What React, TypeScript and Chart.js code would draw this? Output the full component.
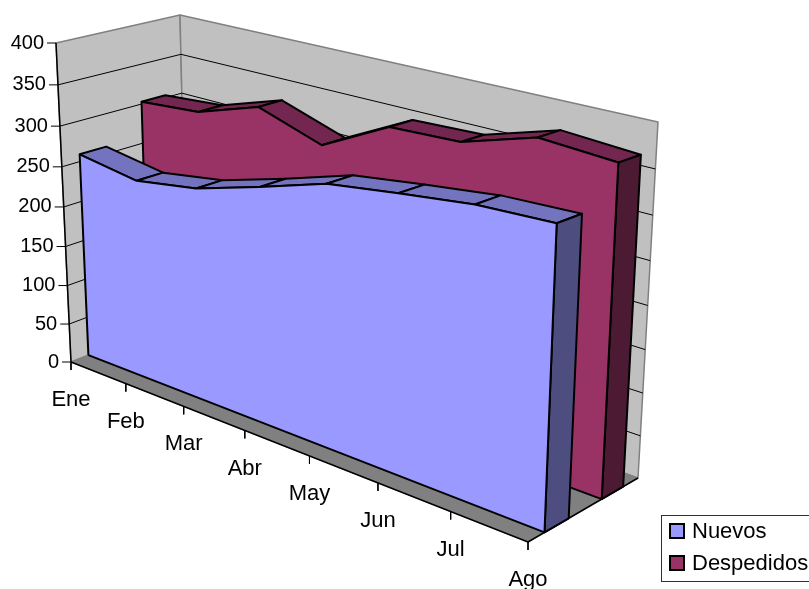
import React, { useEffect, useRef } from "react";
import { Chart, registerables } from "chart.js";

Chart.register(...registerables);

const categories = ["Ene", "Feb", "Mar", "Abr", "May", "Jun", "Jul", "Ago"];
const nuevos = [259, 247, 259, 282, 307, 318, 328, 331];
const despedidos = [303, 309, 334, 308, 349, 352, 377, 371];
const yTicks = [0, 50, 100, 150, 200, 250, 300, 350, 400];
const legendNames = ["Nuevos", "Despedidos"];

const W = 809;
const H = 589;
const FONT_Y = "20px 'Liberation Sans', Arial, sans-serif";
const FONT_X = "22px 'Liberation Sans', Arial, sans-serif";
const Y_MAX = 400;

type P = [number, number];
// Projected corners of the plot box: bottom-left, bottom-right, top-right, top-left
const FRONT: P[] = [[71, 362], [528, 542], [542, 160], [56, 43]];
const BACK: P[] = [[187, 316], [638, 478], [658, 122], [180, 15]];

function project(uIdx: number, value: number, t: number): { x: number; y: number } {
  const q = FRONT.map((f, i) => [f[0] + (BACK[i][0] - f[0]) * t, f[1] + (BACK[i][1] - f[1]) * t]);
  const [x0, y0] = q[0], [x1, y1] = q[1], [x2, y2] = q[2], [x3, y3] = q[3];
  const dx1 = x1 - x2, dx2 = x3 - x2, sx = x0 - x1 + x2 - x3;
  const dy1 = y1 - y2, dy2 = y3 - y2, sy = y0 - y1 + y2 - y3;
  const den = dx1 * dy2 - dx2 * dy1;
  const g = (sx * dy2 - dx2 * sy) / den;
  const h = (dx1 * sy - sx * dy1) / den;
  const a = x1 - x0 + g * x1, b = x3 - x0 + h * x3;
  const d = y1 - y0 + g * y1, e = y3 - y0 + h * y3;
  const u = uIdx / (categories.length - 1);
  const v = value / Y_MAX;
  const w = g * u + h * v + 1;
  return { x: (a * u + b * v + x0) / w, y: (d * u + e * v + y0) / w };
}

type Face = { label: string; pts: { x: number; y: number }[]; fill?: string; line: string; width: number };

function buildFaces(): Face[] {
  const last = categories.length - 1;
  const faces: Face[] = [];
  const closed = (p: { x: number; y: number }[]) => [...p, p[0]];

  faces.push({
    label: "wall-left",
    pts: closed([project(0, 0, 0), project(0, 0, 1), project(0, Y_MAX, 1), project(0, Y_MAX, 0)]),
    fill: "#C0C0C0", line: "#808080", width: 1.5,
  });
  faces.push({
    label: "wall-back",
    pts: closed([project(0, 0, 1), project(last, 0, 1), project(last, Y_MAX, 1), project(0, Y_MAX, 1)]),
    fill: "#C0C0C0", line: "#808080", width: 1.5,
  });
  faces.push({
    label: "floor",
    pts: closed([project(0, 0, 0), project(last, 0, 0), project(last, 0, 1), project(0, 0, 1)]),
    fill: "#808080", line: "#808080", width: 1,
  });
  for (const v of yTicks) {
    if (v === 0 || v === Y_MAX) continue;
    faces.push({
      label: `grid-${v}`,
      pts: [project(0, v, 0), project(0, v, 1), project(last, v, 1)],
      line: "#000000", width: 1,
    });
  }
  faces.push({ label: "axis-x", pts: [project(0, 0, 0), project(last, 0, 0), project(last, 0, 1)], line: "#000000", width: 1.5 });
  faces.push({ label: "axis-y", pts: [project(0, 0, 0), project(0, Y_MAX, 0)], line: "#000000", width: 1.5 });
  for (const v of yTicks) {
    const p = project(0, v, 0);
    faces.push({ label: `ytick-${v}`, pts: [p, { x: p.x - 9, y: p.y }], line: "#000000", width: 1 });
  }
  categories.forEach((c, i) => {
    const p = project(i, 0, 0);
    faces.push({ label: `xtick-${c}`, pts: [p, { x: p.x, y: p.y + 8 }], line: "#000000", width: 1 });
  });

  const series = [
    { name: "Despedidos", data: despedidos, t0: 0.67, t1: 0.865, front: "#993366", top: "#732650", side: "#4D1A33" },
    { name: "Nuevos", data: nuevos, t0: 0.15, t1: 0.37, front: "#9999FF", top: "#7373BF", side: "#4D4D80" },
  ];
  for (const s of series) {
    s.data.forEach((val, i) => {
      if (i === last) return;
      const nx = s.data[i + 1];
      faces.push({
        label: `${s.name}-top-${i}`,
        pts: closed([project(i, val, s.t0), project(i + 1, nx, s.t0), project(i + 1, nx, s.t1), project(i, val, s.t1)]),
        fill: s.top, line: "#000000", width: 2,
      });
    });
    faces.push({
      label: `${s.name}-side`,
      pts: closed([project(last, 0, s.t0), project(last, 0, s.t1), project(last, s.data[last], s.t1), project(last, s.data[last], s.t0)]),
      fill: s.side, line: "#000000", width: 2,
    });
    faces.push({
      label: s.name,
      pts: closed([
        project(0, 0, s.t0),
        project(last, 0, s.t0),
        ...s.data.map((_, i) => project(last - i, s.data[last - i], s.t0)),
      ]),
      fill: s.front, line: "#000000", width: 2,
    });
  }
  return faces;
}

const polygonFill = {
  id: "polygonFill",
  beforeDatasetDraw(chart: any, args: any) {
    const ds = chart.data.datasets[args.index] as any;
    if (!ds.polyFill) return;
    const pts = args.meta.data;
    const ctx = chart.ctx;
    ctx.save();
    ctx.beginPath();
    pts.forEach((p: any, i: number) => (i ? ctx.lineTo(p.x, p.y) : ctx.moveTo(p.x, p.y)));
    ctx.closePath();
    ctx.fillStyle = ds.polyFill;
    ctx.fill();
    ctx.restore();
  },
};

const labelsAndLegend = {
  id: "labelsAndLegend",
  afterDraw(chart: any) {
    const ctx = chart.ctx;
    const sx = chart.scales.x, sy = chart.scales.y;
    ctx.save();
    ctx.font = FONT_Y;
    ctx.fillStyle = "#000000";
    ctx.textBaseline = "middle";
    ctx.textAlign = "right";
    yTicks.forEach((v) => {
      const p = project(0, v, 0);
      ctx.fillText(String(v), sx.getPixelForValue(p.x - 12), sy.getPixelForValue(p.y));
    });
    ctx.font = FONT_X;
    ctx.textAlign = "center";
    categories.forEach((c, i) => {
      const p = project(i, 0, 0);
      ctx.fillText(c, sx.getPixelForValue(p.x), sy.getPixelForValue(p.y + 38));
    });
    // legend
    ctx.fillStyle = "#FFFFFF";
    ctx.strokeStyle = "#303030";
    ctx.lineWidth = 1;
    ctx.fillRect(661.5, 515.5, 160, 66);
    ctx.strokeRect(661.5, 515.5, 160, 66);
    const colors = ["#9999FF", "#993366"];
    legendNames.forEach((n, i) => {
      const y = 524 + i * 32;
      ctx.fillStyle = colors[i];
      ctx.strokeStyle = "#000000";
      ctx.lineWidth = 2;
      ctx.fillRect(670, y, 14, 14);
      ctx.strokeRect(670, y, 14, 14);
      ctx.fillStyle = "#000000";
      ctx.textAlign = "left";
      ctx.fillText(n, 692, y + 8);
    });
    ctx.restore();
  },
};

export default function App() {
  const ref = useRef<HTMLCanvasElement | null>(null);
  useEffect(() => {
    if (!ref.current) return;
    const faces = buildFaces();
    const chart = new Chart(ref.current, {
      type: "scatter",
      data: {
        datasets: faces.map((f, i) => ({
          label: f.label,
          data: f.pts,
          showLine: true,
          fill: false,
          tension: 0,
          pointRadius: 0,
          borderColor: f.line,
          borderWidth: f.width,
          borderJoinStyle: "round",
          polyFill: f.fill,
          order: faces.length - i,
          clip: false,
        })) as any,
      },
      options: {
        responsive: false,
        animation: false,
        devicePixelRatio: 1,
        layout: { padding: 0 },
        scales: {
          x: { type: "linear", min: 0, max: W, display: false },
          y: { type: "linear", min: 0, max: H, reverse: true, display: false },
        },
        plugins: { legend: { display: false }, tooltip: { enabled: false } },
      },
      plugins: [polygonFill, labelsAndLegend],
    });
    return () => chart.destroy();
  }, []);
  return (
    <div style={{ position: "absolute", left: 0, top: 0, width: W, height: H, background: "#fff" }}>
      <canvas ref={ref} width={W} height={H} style={{ display: "block" }} />
    </div>
  );
}
